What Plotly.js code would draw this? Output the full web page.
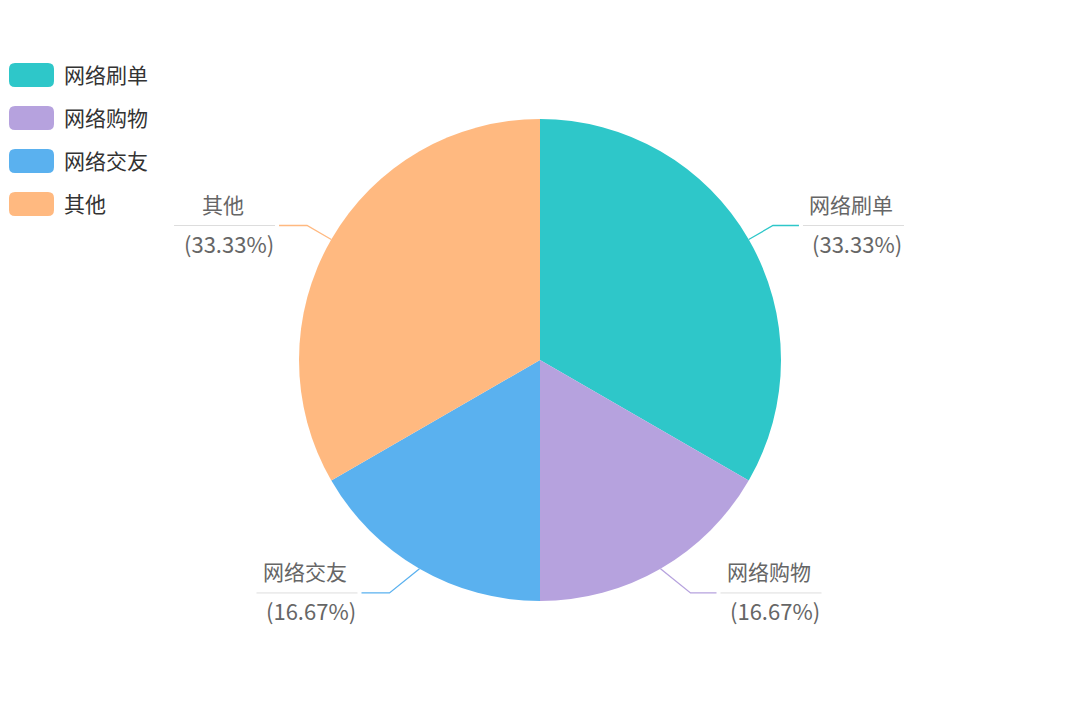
<!DOCTYPE html>
<html><head><meta charset="utf-8">
<script src="https://cdn.plot.ly/plotly-3.0.1.min.js"></script>
<style>html,body{margin:0;padding:0;background:#fff;}#chart{width:1080px;height:720px;}</style>
</head><body><div id="chart"></div>
<script>
const categories = ['网络刷单', '网络购物', '网络交友', '其他'];
const values = [2, 1, 1, 2];
const colors = ['#2ec7c9', '#b6a2de', '#5ab1ef', '#ffb980'];

// label layout tweaks (pixels), not data
const elbowShiftX = [0, 16, 16, 0];
const horizLen = [26, 26, 28, 28];

const W = 1080, H = 720;
const cx = 540, cy = 360, R = 241;
const px = x => x / W;
const py = y => 1 - y / H;
const FONT = '"Noto Sans CJK SC", "Noto Sans", sans-serif';

const total = values.reduce((a, b) => a + b, 0);
const shapes = [];
const annotations = [];
let cum = 0;
values.forEach((v, i) => {
  const mid = (cum + v / 2) / total * 2 * Math.PI; // clockwise from 12 o'clock
  cum += v;
  const sx = Math.sin(mid), sy = -Math.cos(mid);
  const dir = sx >= 0 ? 1 : -1;
  const x0 = cx + R * sx, y0 = cy + R * sy;
  const x1 = cx + (R + 28) * sx + dir * elbowShiftX[i], y1 = cy + (R + 28) * sy;
  const x2 = x1 + dir * horizLen[i];
  shapes.push({type: 'path', xref: 'paper', yref: 'paper',
    path: `M${px(x0)},${py(y0)} L${px(x1)},${py(y1)} L${px(x2)},${py(y1)}`,
    line: {color: colors[i], width: 1.3}});
  const u0 = x2 + dir * 4, u1 = u0 + dir * 101;
  shapes.push({type: 'line', xref: 'paper', yref: 'paper',
    x0: px(u0), x1: px(u1), y0: py(y1), y1: py(y1),
    line: {color: '#dddddd', width: 1}});
  const tc = (u0 + u1) / 2;
  const pct = (v / total * 100).toFixed(2) + '%';
  annotations.push({xref: 'paper', yref: 'paper', x: px(tc - 2), y: py(y1 - 22),
    text: categories[i], showarrow: false, xanchor: 'center', yanchor: 'middle',
    font: {family: FONT, size: 21, color: '#666'}});
  annotations.push({xref: 'paper', yref: 'paper', x: px(tc + 4), y: py(y1 + 17),
    text: '(' + pct + ')', showarrow: false, xanchor: 'center', yanchor: 'middle',
    font: {family: FONT, size: 22, color: '#666'}});
});

// legend
categories.forEach((c, i) => {
  const yc = 75 + i * 43;
  const x0 = 9, x1 = 54, y0 = yc - 12, y1 = yc + 12, r = 6;
  const p = `M${px(x0 + r)},${py(y0)} L${px(x1 - r)},${py(y0)} Q${px(x1)},${py(y0)} ${px(x1)},${py(y0 + r)} ` +
    `L${px(x1)},${py(y1 - r)} Q${px(x1)},${py(y1)} ${px(x1 - r)},${py(y1)} L${px(x0 + r)},${py(y1)} ` +
    `Q${px(x0)},${py(y1)} ${px(x0)},${py(y1 - r)} L${px(x0)},${py(y0 + r)} Q${px(x0)},${py(y0)} ${px(x0 + r)},${py(y0)} Z`;
  shapes.push({type: 'path', xref: 'paper', yref: 'paper', path: p,
    fillcolor: colors[i], line: {width: 0}});
  annotations.push({xref: 'paper', yref: 'paper', x: px(62), y: py(yc - 1),
    text: c, showarrow: false, xanchor: 'left', yanchor: 'middle',
    font: {family: FONT, size: 21, color: '#333'}});
});

const data = [{
  type: 'pie',
  labels: categories,
  values: values,
  sort: false,
  direction: 'clockwise',
  rotation: 0,
  textinfo: 'none',
  hoverinfo: 'label+percent',
  marker: {colors: colors, line: {color: '#ffffff', width: 0}},
  domain: {x: [px(cx - R), px(cx + R)], y: [py(cy + R), py(cy - R)]},
  showlegend: false
}];

const layout = {
  width: W, height: H,
  margin: {l: 0, r: 0, t: 0, b: 0},
  paper_bgcolor: '#ffffff',
  showlegend: false,
  shapes: shapes,
  annotations: annotations
};
Plotly.newPlot('chart', data, layout, {displayModeBar: false, staticPlot: true});
</script></body></html>
